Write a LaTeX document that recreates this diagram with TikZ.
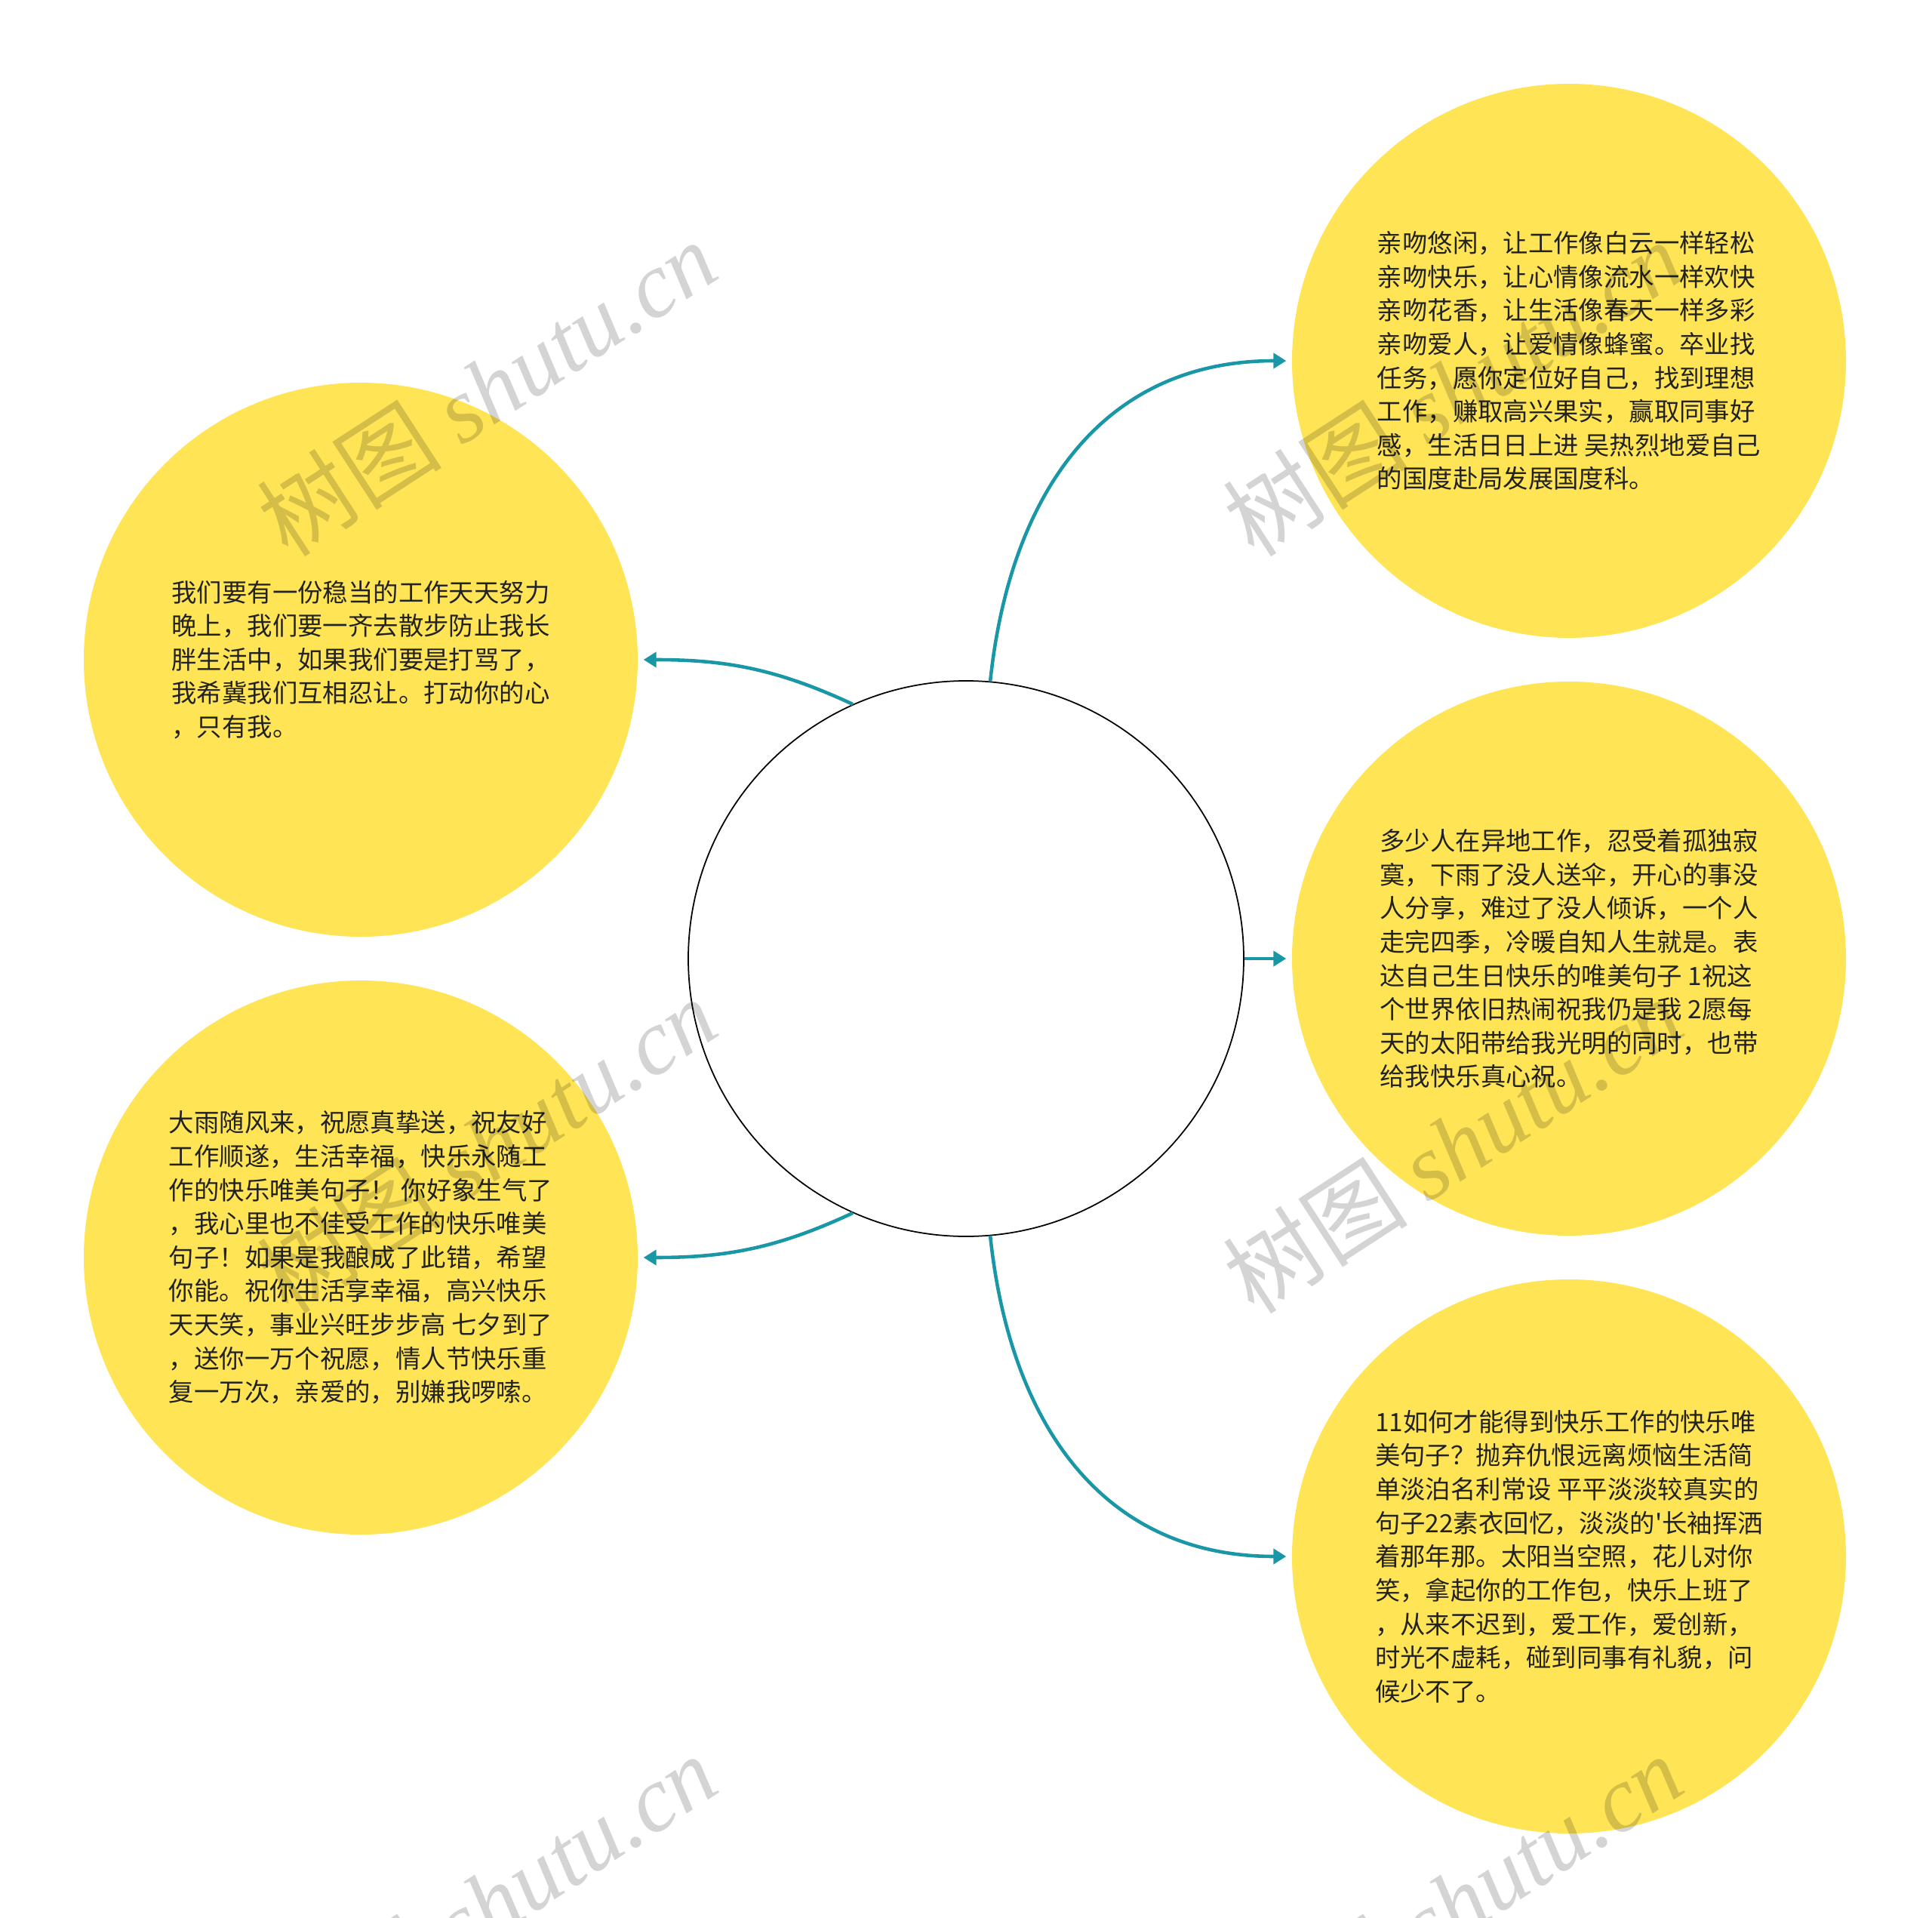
\documentclass[tikz,border=0pt]{standalone}
\usepackage{fontspec}
\setmainfont{Noto Sans CJK SC}[Ligatures=TeXOff]
\newfontfamily\wmfont{Liberation Serif}
\usetikzlibrary{arrows.meta}
\definecolor{bubbleyellow}{HTML}{FFE556}
\definecolor{linkteal}{HTML}{1A97A7}
\definecolor{inktext}{HTML}{222222}

\begin{document}
\begin{tikzpicture}[
        bubble/.style={circle, fill=bubbleyellow, minimum size=7.34cm, inner sep=0pt,
            align=left, text=inktext, font=\fontsize{9.5pt}{12.7pt}\selectfont},
        hub/.style={circle, draw=black, fill=white, line width=0.5pt, minimum size=7.36cm},
        link/.style={draw=linkteal, line width=1.3pt,
            -{Triangle[length=0.17cm,width=0.2cm]}, shorten >=0.07cm},
        wmark/.style={text=black, text opacity=0.17, rotate=33,
            font=\fontsize{35pt}{35pt}\selectfont}
    ]
        \useasboundingbox (0,0) rectangle (25.6,-25.41);

        % Centre
        \node[hub] (hub) at (12.80,-12.70) {};

        % Left
        \node[bubble] (lt) at (4.78,-8.74) {我们要有一份稳当的工作天天努力\\晚上，我们要一齐去散步防止我长\\胖生活中，如果我们要是打骂了，\\我希冀我们互相忍让。打动你的心\\，只有我。};
        \node[bubble] (lb) at (4.78,-16.66) {大雨随风来，祝愿真挚送，祝友好\\工作顺遂，生活幸福，快乐永随工\\作的快乐唯美句子！ 你好象生气了\\，我心里也不佳受工作的快乐唯美\\句子！如果是我酿成了此错，希望\\你能。祝你生活享幸福，高兴快乐\\天天笑，事业兴旺步步高 七夕到了\\，送你一万个祝愿，情人节快乐重\\复一万次，亲爱的，别嫌我啰嗦。};

        % Right
        \node[bubble] (tr) at (20.79,-4.78) {亲吻悠闲，让工作像白云一样轻松\\亲吻快乐，让心情像流水一样欢快\\亲吻花香，让生活像春天一样多彩\\亲吻爱人，让爱情像蜂蜜。卒业找\\任务，愿你定位好自己，找到理想\\工作，赚取高兴果实，赢取同事好\\感，生活日日上进 吴热烈地爱自己\\的国度赴局发展国度科。};
        \node[bubble] (mr) at (20.79,-12.70) {多少人在异地工作，忍受着孤独寂\\寞，下雨了没人送伞，开心的事没\\人分享，难过了没人倾诉，一个人\\走完四季，冷暖自知人生就是。表\\达自己生日快乐的唯美句子 1祝这\\个世界依旧热闹祝我仍是我 2愿每\\天的太阳带给我光明的同时，也带\\给我快乐真心祝。};
        \node[bubble] (br) at (20.79,-20.62) {11如何才能得到快乐工作的快乐唯\\美句子？抛弃仇恨远离烦恼生活简\\单淡泊名利常设 平平淡淡较真实的\\句子22素衣回忆，淡淡的'长袖挥洒\\着那年那。太阳当空照，花儿对你\\笑，拿起你的工作包，快乐上班了\\，从来不迟到，爱工作，爱创新，\\时光不虚耗，碰到同事有礼貌，问\\候少不了。};

        % Connections
        \draw[link] (hub.85) to[out=84, in=180, looseness=1.1] (tr.west);
        \draw[link] (hub.east) -- (mr.west);
        \draw[link] (hub.-85) to[out=-84, in=180, looseness=1.1] (br.west);
        \draw[link] (hub.114) to[out=155, in=0] (lt.east);
        \draw[link] (hub.-114) to[out=205, in=0] (lb.east);

        % Watermark
        \foreach \col/\cx in {0/6.45, 1/19.25}
            \foreach \row/\cy in {0/-5.14, 1/-15.17, 2/-25.20}
                \node[wmark] (wm\col\row) at (\cx,\cy) {树图 {\wmfont\itshape shutu.cn}};
    \end{tikzpicture}
\end{document}
